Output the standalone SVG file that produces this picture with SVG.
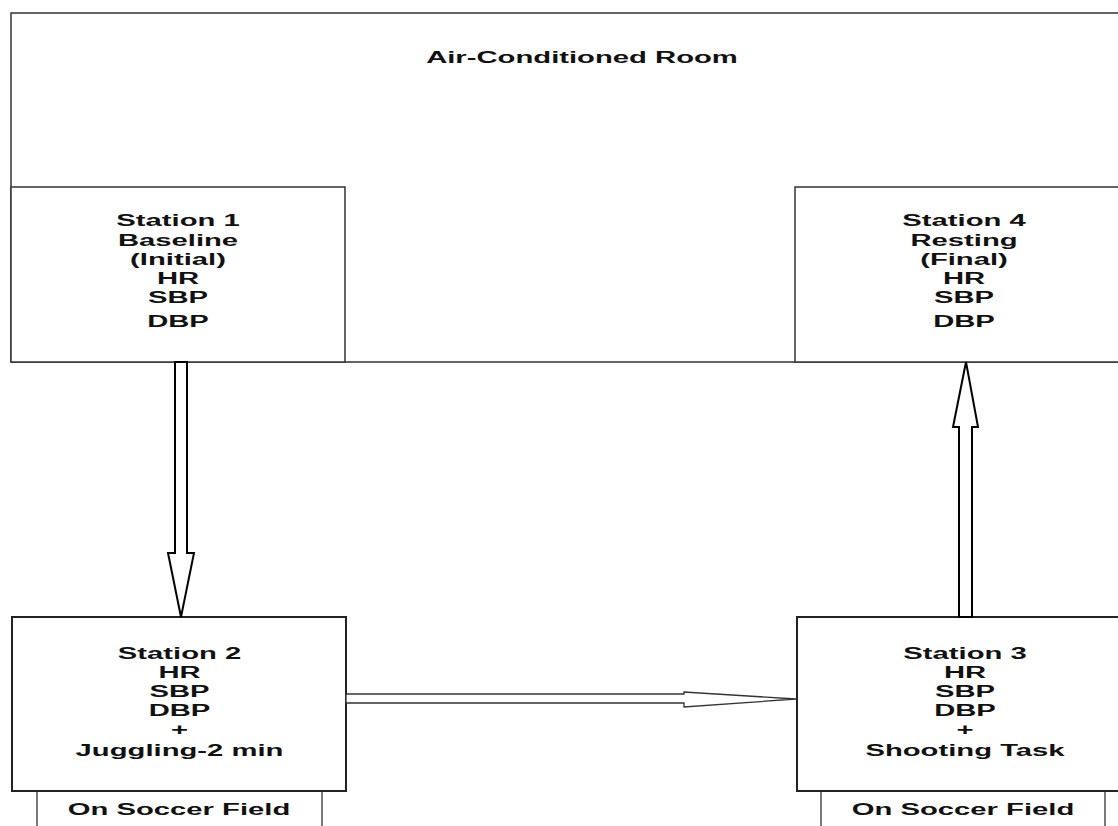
<svg xmlns="http://www.w3.org/2000/svg" width="1118" height="826" viewBox="0 0 1118 826">
<style>
.box{fill:#fff;stroke:#333;stroke-width:1.5}
.box2{fill:#fff;stroke:#222;stroke-width:2}
.sub{fill:#fff;stroke:#333;stroke-width:1.3}
.t{font-family:"Liberation Sans",Arial,sans-serif;font-weight:bold;font-size:17px;fill:#111;text-anchor:middle}
.arr{fill:#fff;stroke:#000;stroke-width:2;stroke-linejoin:miter}
.arr2{fill:#fff;stroke:#333;stroke-width:1.3}
</style>
<rect width="1118" height="826" fill="#fff"/>
<g id="room">
<rect class="box" x="11" y="13" width="1140" height="349"/>
<g transform="translate(582 0) scale(1.72 1)"><text class="t" x="0" y="63">Air-Conditioned Room</text></g>
</g>
<g id="station1">
<rect class="box" x="11" y="187" width="334" height="175"/>
<g transform="translate(178 0) scale(1.72 1)">
<text class="t" x="0" y="226">Station 1</text>
<text class="t" x="0" y="246">Baseline</text>
<text class="t" x="0" y="265">(Initial)</text>
<text class="t" x="0" y="284">HR</text>
<text class="t" x="0" y="303">SBP</text>
<text class="t" x="0" y="327">DBP</text>
</g>
</g>
<g id="station4">
<rect class="box" x="795" y="187" width="340" height="175"/>
<g transform="translate(964 0) scale(1.72 1)">
<text class="t" x="0" y="226">Station 4</text>
<text class="t" x="0" y="246">Resting</text>
<text class="t" x="0" y="265">(Final)</text>
<text class="t" x="0" y="284">HR</text>
<text class="t" x="0" y="303">SBP</text>
<text class="t" x="0" y="327">DBP</text>
</g>
</g>
<g id="field2">
<rect class="sub" x="37" y="791" width="285" height="60"/>
<g transform="translate(179 0) scale(1.72 1)"><text class="t" x="0" y="815">On Soccer Field</text></g>
</g>
<g id="station2">
<rect class="box2" x="12" y="617" width="334" height="174"/>
<g transform="translate(179.5 0) scale(1.72 1)">
<text class="t" x="0" y="659">Station 2</text>
<text class="t" x="0" y="678">HR</text>
<text class="t" x="0" y="697">SBP</text>
<text class="t" x="0" y="716">DBP</text>
<text class="t" x="0" y="735">+</text>
<text class="t" x="0" y="756">Juggling-2 min</text>
</g>
</g>
<g id="field3">
<rect class="sub" x="821" y="791" width="284" height="60"/>
<g transform="translate(963 0) scale(1.72 1)"><text class="t" x="0" y="815">On Soccer Field</text></g>
</g>
<g id="station3">
<rect class="box2" x="797" y="617" width="340" height="174"/>
<g transform="translate(965 0) scale(1.72 1)">
<text class="t" x="0" y="659">Station 3</text>
<text class="t" x="0" y="678">HR</text>
<text class="t" x="0" y="697">SBP</text>
<text class="t" x="0" y="716">DBP</text>
<text class="t" x="0" y="735">+</text>
<text class="t" x="0" y="756">Shooting Task</text>
</g>
</g>
<g id="connectors">
<polygon class="arr" points="175,362 187,362 187,553 194,553 181,617 168,553 175,553"/>
<polygon class="arr" points="959,617 972,617 972,427 978,427 966,362 953,427 959,427"/>
<polygon class="arr2" points="346,694 684,694 684,692 796,699 684,707 684,703 346,703"/>
</g>
</svg>
